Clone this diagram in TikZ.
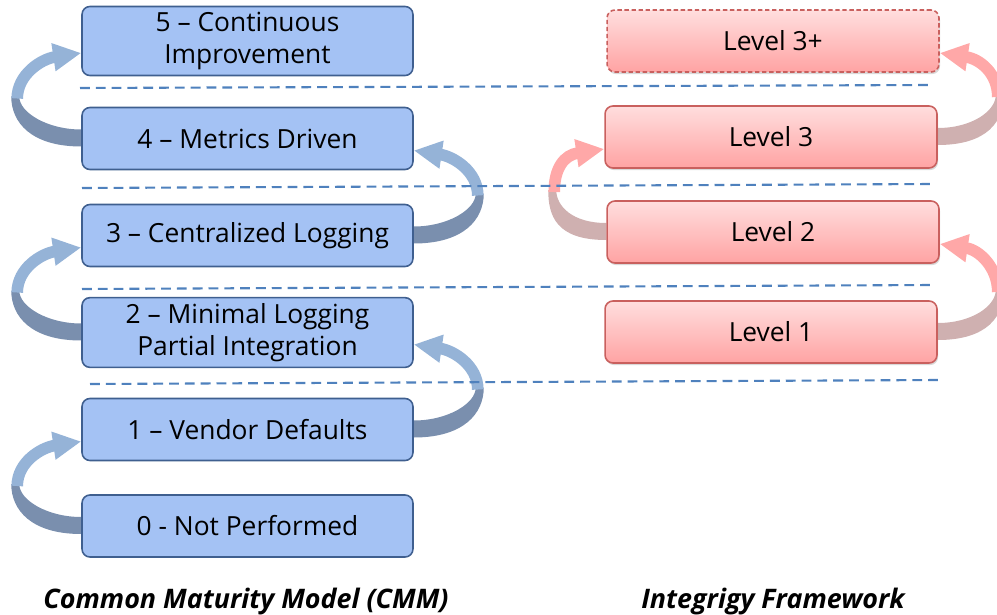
\documentclass[tikz,border=0pt]{standalone}
\usepackage{fontspec}
\setmainfont{Open Sans}
\usetikzlibrary{arrows.meta,calc,shadows,backgrounds}

\definecolor{boxblue}{HTML}{A4C2F4}
\definecolor{edgeblue}{HTML}{3F5F8F}
\definecolor{ribhi}{HTML}{95B3D7}
\definecolor{riblo}{HTML}{7A8FAE}
\definecolor{pinktop}{HTML}{FFDEDE}
\definecolor{pinkbot}{HTML}{FFA3A3}
\definecolor{edgered}{HTML}{C9605E}
\definecolor{redhi}{HTML}{FFA8A8}
\definecolor{redlo}{HTML}{CFB0B0}
\definecolor{sepblue}{HTML}{4F81BD}

\begin{document}
\begin{tikzpicture}[x=0.02cm,y=-0.02cm]
	\tikzstyle{cmm}=[draw=edgeblue,fill=boxblue,line width=0.9pt,rounded corners=4.5pt,minimum width=6.62cm,minimum height=1.24cm,align=center,font=\fontsize{15}{18}\selectfont]
	\tikzstyle{lvl}=[draw=edgered,top color=pinktop,bottom color=pinkbot,line width=0.9pt,rounded corners=4.5pt,minimum width=6.64cm,minimum height=1.24cm,font=\fontsize{15}{18}\selectfont,drop shadow={opacity=0.3,shadow xshift=0.6pt,shadow yshift=-1.2pt}]
	\tikzstyle{sep}=[sepblue,line width=1.2pt,dash pattern=on 5.6pt off 3.4pt]
	\tikzstyle{caption}=[font=\fontsize{15.3}{18}\selectfont\bfseries\itshape,anchor=base]

	\useasboundingbox (0,0) rectangle (997,615);

	% CMM column
	\node[cmm] (b5) at (247.5,41) {5 -- Continuous\\Improvement};
	\node[cmm] (b4) at (247.5,138.5) {4 -- Metrics Driven};
	\node[cmm] (b3) at (247.5,235.5) {3 -- Centralized Logging};
	\node[cmm] (b2) at (247.5,332.5) {2 -- Minimal Logging\\Partial Integration};
	\node[cmm] (b1) at (247.5,429.5) {1 -- Vendor Defaults};
	\node[cmm] (b0) at (247.5,526) {0 - Not Performed};

	% Integrigy column
	\node[lvl,dash pattern=on 2.5pt off 1.5pt] (l3p) at (773,41) {Level 3+};
	\node[lvl] (l3) at (771,137) {Level 3};
	\node[lvl] (l2) at (773,232) {Level 2};
	\node[lvl] (l1) at (771,332) {Level 1};

	\begin{pgfonlayer}{background}
	\foreach \src/\dst/\side/\sg/\dist/\colA/\colB in {b0/b1/west/-1/70/riblo/ribhi, b2/b3/west/-1/70/riblo/ribhi, b4/b5/west/-1/70/riblo/ribhi, b1/b2/east/1/70/riblo/ribhi, b3/b4/east/1/70/riblo/ribhi, l1/l2/east/1/66/redlo/redhi, l2/l3/west/-1/58/redlo/redhi, l3/l3p/east/1/66/redlo/redhi}{
		\fill[\colA] ($(\src.\side)+(0,8)$) .. controls +({\sg*50},0) and +(0,26) .. ($(\src.\side)+({\sg*\dist},-42)$) -- ($(\src.\side)+({\sg*(\dist-8)},-42)$) .. controls +(0,16) and +({\sg*34},0) .. ($(\src.\side)+(0,-9)$) -- cycle;
		\draw[\colB,line width=6.6pt,-{Triangle[width=15pt,length=16pt]}] ($(\src.\side)+({\sg*(\dist-6)},-40)$) .. controls +(0,-24) and +({\sg*40},6) .. ($(\dst.\side)+(0,12)$);
	}
	\end{pgfonlayer}

	% level separators
	\draw[sep] (80,88) -- (932,85);
	\draw[sep] (82,188) -- (933,184);
	\draw[sep] (82,289) -- (933,285);
	\draw[sep] (90,384) -- (940,380);

	\node[caption] (cmmcap) at (246,608) {Common Maturity Model (CMM)};
	\node[caption] (igcap) at (773,608) {Integrigy Framework};
\end{tikzpicture}
\end{document}
